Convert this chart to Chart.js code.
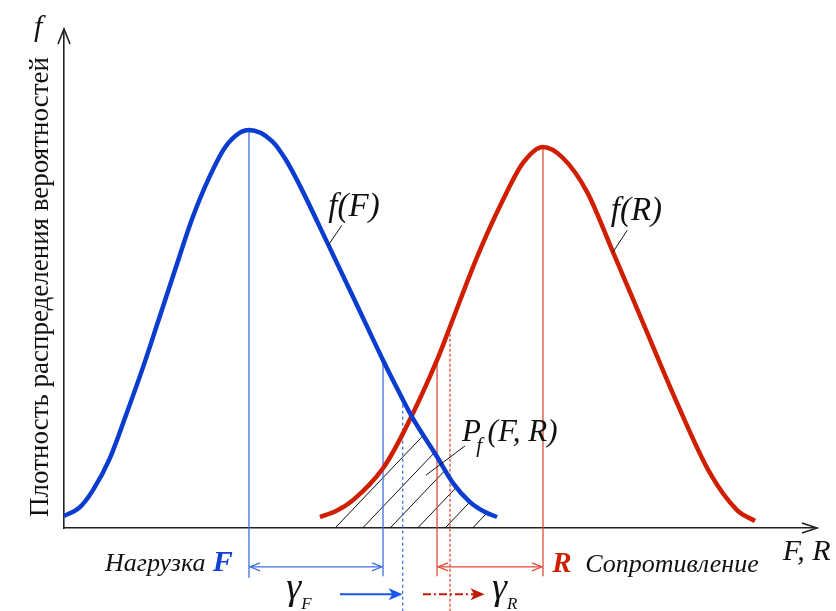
<!DOCTYPE html>
<html>
<head>
<meta charset="utf-8">
<script src="https://cdn.jsdelivr.net/npm/chart.js@4/dist/chart.umd.min.js"></script>
<style>
  html, body { margin: 0; padding: 0; background: #fff; }
  #wrap { width: 836px; height: 611px; }
</style>
</head>
<body>
<div id="wrap"><canvas id="c" width="836" height="611"></canvas></div>
<script>
// Load density f(F)
const loadX = [0, 2.13, 3.86, 6.13, 8.26, 10.39, 12.52, 14.78, 17.04, 19.31, 21.57, 24.63,
               27.70, 29.56, 31.42, 35.15, 38.75, 42.48, 44.47, 46.34, 49.67, 51.80, 54.06, 56.06, 57.66];
const loadY = [2.4, 4.2, 7.6, 14.1, 22.7, 31.7, 41.4, 51.8, 62.0, 70.3, 76.7, 79.9,
               77.7, 73.9, 68.7, 57.0, 45.6, 33.7, 27.7, 22.3, 14.3, 9.0, 5.2, 3.2, 2.2];

// Resistance density f(R)
const resX = [34.09, 36.22, 38.48, 42.48, 45.14, 49.67, 51.40, 55.00, 58.46, 61.12, 63.78,
              66.44, 69.64, 73.10, 77.10, 81.63, 86.02, 89.61, 92.01];
const resY = [2.2, 3.4, 5.6, 12.0, 19.0, 33.7, 40.4, 54.4, 65.9, 73.3, 76.5,
              74.3, 67.5, 55.4, 41.2, 25.1, 11.0, 3.6, 1.4];

// Vertical guides: mean F, characteristic F, design F, characteristic R, design R, mean R
const guideX      = [24.63, 42.48, 45.1, 49.67, 51.4, 63.78];
const guideTop    = [79.9, 33.7, 25.9, 33.7, 40.4, 76.5];
const guideBottom = [-10.0, -9.7, -16.8, -9.7, -16.8, -9.7];

// Levels of the dimension lines and of the safety-factor arrows
const dimLevel = -7.8;
const gammaLevel = -13.3;
const gammaFFrom = 36.75, gammaRFrom = 47.8, gammaRTo = 56.0;

const BLUE = '#0a3ccf';
const RED = '#d01f00';
const BLUE_THIN = '#3f6fe0';
const RED_THIN = '#de4a36';
const SERIF = '"Liberation Serif", "Times New Roman", serif';

const toPts = (xs, ys) => xs.map((x, i) => ({ x, y: ys[i] }));

const datasets = [
  { data: toPts(loadX, loadY), borderColor: BLUE, borderWidth: 4.5, cubicInterpolationMode: 'monotone', clip: false },
  { data: toPts(resX, resY), borderColor: RED, borderWidth: 4.5, cubicInterpolationMode: 'monotone', clip: false }
];
const guideStyle = [
  { c: BLUE_THIN, dash: [] }, { c: BLUE_THIN, dash: [] }, { c: BLUE_THIN, dash: [3, 3] },
  { c: RED_THIN, dash: [] }, { c: RED_THIN, dash: [3, 2] }, { c: RED_THIN, dash: [] }
];
guideX.forEach((gx, i) => {
  datasets.push({
    data: [{ x: gx, y: guideBottom[i] }, { x: gx, y: guideTop[i] }],
    borderColor: guideStyle[i].c, borderWidth: 1.3, borderDash: guideStyle[i].dash, clip: false
  });
});

// Hatching of the overlap area under both densities
const hatchPlugin = {
  id: 'hatch',
  beforeDatasetsDraw(chart) {
    const ctx = chart.ctx;
    const base = chart.scales.y.getPixelForValue(0);
    const clipUnder = (meta) => {
      if (meta.dataset && meta.dataset.updateControlPoints) {
        meta.dataset.updateControlPoints(chart.chartArea, 'x');
      }
      const p = meta.data;
      ctx.beginPath();
      ctx.moveTo(p[0].x, base);
      ctx.lineTo(p[0].x, p[0].y);
      for (let i = 1; i < p.length; i++) {
        const a = p[i - 1], b = p[i];
        if (a.cp2x !== undefined && b.cp1x !== undefined) {
          ctx.bezierCurveTo(a.cp2x, a.cp2y, b.cp1x, b.cp1y, b.x, b.y);
        } else {
          ctx.lineTo(b.x, b.y);
        }
      }
      ctx.lineTo(p[p.length - 1].x, base);
      ctx.closePath();
      ctx.clip();
    };
    ctx.save();
    clipUnder(chart.getDatasetMeta(0));
    clipUnder(chart.getDatasetMeta(1));
    ctx.strokeStyle = '#111';
    ctx.lineWidth = 1;
    const x0 = chart.scales.x.getPixelForValue(36.1);
    const step = 27.5, slope = 1.05;
    ctx.beginPath();
    for (let k = -20; k <= 20; k++) {
      const xs = x0 + k * step;
      ctx.moveTo(xs, base);
      ctx.lineTo(xs + 400, base - 400 * slope);
    }
    ctx.stroke();
    ctx.restore();
  }
};

// Axis arrows, labels and annotation arrows
const annotPlugin = {
  id: 'annot',
  afterDraw(chart) {
    const ctx = chart.ctx;
    const xs = chart.scales.x, ys = chart.scales.y;
    const X = v => xs.getPixelForValue(v);
    const Y = v => ys.getPixelForValue(v);
    const area = chart.chartArea;

    const text = (s, x, y, font, color, align) => {
      ctx.save();
      ctx.font = font;
      ctx.fillStyle = color;
      ctx.textAlign = align || 'left';
      ctx.textBaseline = 'alphabetic';
      ctx.fillText(s, x, y);
      ctx.restore();
    };
    const seg = (x1, y1, x2, y2, color, w, dash) => {
      ctx.save();
      ctx.strokeStyle = color; ctx.lineWidth = w;
      ctx.setLineDash(dash || []);
      ctx.beginPath(); ctx.moveTo(x1, y1); ctx.lineTo(x2, y2); ctx.stroke();
      ctx.restore();
    };
    const openHead = (tx, ty, dir, len, half, color, w) => {
      ctx.save();
      ctx.strokeStyle = color; ctx.lineWidth = w;
      ctx.beginPath();
      if (dir === 'up') {
        ctx.moveTo(tx - half, ty + len); ctx.lineTo(tx, ty); ctx.lineTo(tx + half, ty + len);
      } else {
        ctx.moveTo(tx - dir * len, ty - half); ctx.lineTo(tx, ty); ctx.lineTo(tx - dir * len, ty + half);
      }
      ctx.stroke();
      ctx.restore();
    };
    const filledHead = (tx, ty, len, half, color) => {
      ctx.save();
      ctx.fillStyle = color;
      ctx.beginPath();
      ctx.moveTo(tx, ty); ctx.lineTo(tx - len, ty - half); ctx.lineTo(tx - len * 0.75, ty); ctx.lineTo(tx - len, ty + half);
      ctx.closePath(); ctx.fill();
      ctx.restore();
    };

    // axis arrowheads
    openHead(area.left, area.top - 1, 'up', 15, 6, '#222', 1.6);
    seg(area.left, area.top, area.left, area.top - 1, '#222', 1.6);
    seg(area.right, area.bottom, area.right + 2, area.bottom, '#222', 1.6);
    openHead(area.right + 2, area.bottom, 1, 15, 5, '#222', 1.6);

    // axis titles
    text('f', area.left - 30, area.top + 6, 'italic 30px ' + SERIF, '#111');
    text('F, R', X(95.7), Y(-6.4), 'italic 30px ' + SERIF, '#111');
    ctx.save();
    ctx.translate(40, (area.top + area.bottom) / 2 + 8);
    ctx.rotate(-Math.PI / 2);
    ctx.font = '27px ' + SERIF;
    ctx.fillStyle = '#111';
    ctx.textAlign = 'center';
    ctx.textBaseline = 'alphabetic';
    ctx.fillText('Плотность распределения вероятностей', 0, 8);
    ctx.restore();

    // curve labels with leaders
    text('f(F)', X(35.2), Y(62.7), 'italic 33px ' + SERIF, '#111');
    seg(X(37.0), Y(60.8), X(35.2), Y(56.8), '#111', 1);
    text('f(R)', X(72.8), Y(61.8), 'italic 33px ' + SERIF, '#111');
    seg(X(75.0), Y(59.8), X(73.1), Y(55.4), '#111', 1);
    text('P', X(53.0), Y(17.5), 'italic 31px ' + SERIF, '#111');
    text('f', X(54.9), Y(15.3), 'italic 21px ' + SERIF, '#111');
    text('(F, R)', X(56.4), Y(17.5), 'italic 31px ' + SERIF, '#111');
    seg(X(53.4), Y(16.5), X(48.2), Y(10.6), '#111', 1);

    // dimension lines between mean and characteristic values
    const dy = Y(dimLevel);
    seg(X(guideX[0]) + 1, dy, X(guideX[1]) - 1, dy, BLUE_THIN, 1.2);
    openHead(X(guideX[0]) + 1, dy, -1, 10, 4, BLUE_THIN, 1.2);
    openHead(X(guideX[1]) - 1, dy, 1, 10, 4, BLUE_THIN, 1.2);
    seg(X(guideX[3]) + 1, dy, X(guideX[5]) - 1, dy, RED_THIN, 1.2);
    openHead(X(guideX[3]) + 1, dy, -1, 10, 4, RED_THIN, 1.2);
    openHead(X(guideX[5]) - 1, dy, 1, 10, 4, RED_THIN, 1.2);

    // labels under the axis
    text('Нагрузка', X(5.46), Y(-8.6), 'italic 26px ' + SERIF, '#111');
    text('F', X(19.8), Y(-8.6), 'bold italic 30px ' + SERIF, '#1040d8');
    text('R', X(65.0), Y(-8.8), 'bold italic 29px ' + SERIF, RED);
    text('Сопротивление', X(69.4), Y(-8.8), 'italic 26px ' + SERIF, '#111');

    // safety-factor arrows
    const gy = Y(gammaLevel);
    seg(X(gammaFFrom), gy, X(guideX[2]) - 8, gy, '#1a55f0', 2.2);
    filledHead(X(guideX[2]), gy, 14, 6, '#1a55f0');
    seg(X(gammaRFrom), gy, X(gammaRTo) - 8, gy, '#c01a08', 2, [8, 3, 2, 3]);
    filledHead(X(gammaRTo), gy, 14, 6, '#c01a08');

    text('γ', X(29.6), Y(-14.3), 'italic 38px ' + SERIF, '#111');
    text('F', X(31.6), Y(-16.3), 'italic 17px ' + SERIF, '#111');
    text('γ', X(57.0), Y(-14.3), 'italic 38px ' + SERIF, '#111');
    text('R', X(59.0), Y(-16.3), 'italic 17px ' + SERIF, '#111');
  }
};

new Chart(document.getElementById('c'), {
  type: 'line',
  data: { datasets },
  options: {
    responsive: false,
    animation: false,
    devicePixelRatio: 1,
    layout: { padding: { left: 64, top: 30, right: 21, bottom: 83 } },
    elements: { point: { radius: 0, hoverRadius: 0 }, line: { fill: false } },
    plugins: { legend: { display: false }, tooltip: { enabled: false } },
    scales: {
      x: {
        type: 'linear', min: 0, max: 100,
        ticks: { display: false },
        grid: { display: false, drawTicks: false },
        border: { display: true, color: '#222', width: 1.6 }
      },
      y: {
        type: 'linear', min: 0, max: 100,
        ticks: { display: false },
        grid: { display: false, drawTicks: false },
        border: { display: true, color: '#222', width: 1.6 }
      }
    }
  },
  plugins: [hatchPlugin, annotPlugin]
});
</script>
</body>
</html>
